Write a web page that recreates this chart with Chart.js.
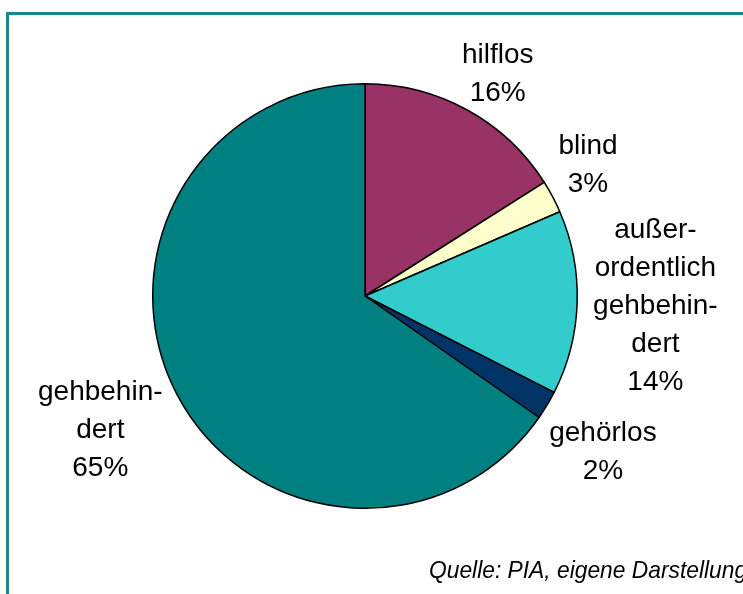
<!DOCTYPE html>
<html>
<head>
<meta charset="utf-8">
<script src="https://cdn.jsdelivr.net/npm/chart.js@4"></script>
<style>
  body { margin: 0; background: #fff; }
  #wrap { position: relative; width: 743px; height: 594px; overflow: hidden; }
  #frame { position: absolute; left: 6px; top: 12px; width: 800px; height: 700px;
           border-top: 3px solid #17898a; border-left: 3px solid #17898a; }
  #chartBox { position: absolute; left: 0; top: 0; width: 743px; height: 594px; }
  #source { position: absolute; left: 429px; top: 556px; white-space: nowrap;
            transform: scaleX(0.95); transform-origin: left top;
            font: italic 24px "Liberation Sans Narrow", "Liberation Sans", Arial, sans-serif; color: #000; }
</style>
</head>
<body>
<div id="wrap">
  <div id="frame"></div>
  <div id="chartBox"><canvas id="myChart"></canvas></div>
  <div id="source">Quelle: PIA, eigene Darstellung</div>
</div>
<script>
// Slices, clockwise from 12 o'clock
const categories = ["hilflos", "blind", "außerordentlich gehbehindert", "gehörlos", "gehbehindert"];
const labelLines = [["hilflos"], ["blind"], ["außer-", "ordentlich", "gehbehin-", "dert"], ["gehörlos"], ["gehbehin-", "dert"]];
const shares = [16.0, 2.5, 14.0, 2.2, 65.3];
const sliceColors = ["#993366", "#FFFFCC", "#33CCCC", "#003366", "#008080"];

// small hand nudges so the labels sit where the original ones were placed
const labelNudge = [[6, 11], [-4, -7], [1, 0], [-3, 20], [-8, 3]];

// draws the "name / xx%" labels outside each slice
const outsideLabels = {
    id: 'outsideLabels',
    afterDatasetsDraw(chart) {
        const ctx = chart.ctx;
        const arcs = chart.getDatasetMeta(0).data;
        const lineH = 38;
        ctx.save();
        ctx.font = '28px "Liberation Sans", Arial, sans-serif';
        ctx.fillStyle = '#000';
        ctx.textAlign = 'center';
        ctx.textBaseline = 'middle';
        arcs.forEach((arc, i) => {
            const mid = (arc.startAngle + arc.endAngle) / 2;
            const dx = Math.cos(mid), dy = Math.sin(mid);
            const lines = labelLines[i].concat([Math.round(shares[i]) + '%']);
            const w = Math.max(...lines.map(l => ctx.measureText(l).width));
            const h = lines.length * lineH;
            const r = arc.outerRadius + 15;
            const cx = arc.x + dx * r + dx * w / 2 + labelNudge[i][0];
            const cy = arc.y + dy * r + dy * h / 2 + labelNudge[i][1];
            lines.forEach((l, k) => {
                ctx.fillText(l, cx, cy - h / 2 + lineH / 2 + k * lineH);
            });
        });
        ctx.restore();
    }
};

const ctx = document.getElementById('myChart');
const myChart = new Chart(ctx, {
    type: 'pie',
    data: {
        labels: categories,
        datasets: [{
            data: shares,
            backgroundColor: sliceColors,
            borderColor: '#000',
            borderWidth: 1.5
        }]
    },
    options: {
        responsive: true,
        maintainAspectRatio: false,
        animation: false,
        layout: { padding: { top: 83, bottom: 85, left: 152, right: 165 } },
        plugins: {
            legend: { display: false },
            tooltip: { enabled: false }
        }
    },
    plugins: [outsideLabels]
});
</script>
</body>
</html>
